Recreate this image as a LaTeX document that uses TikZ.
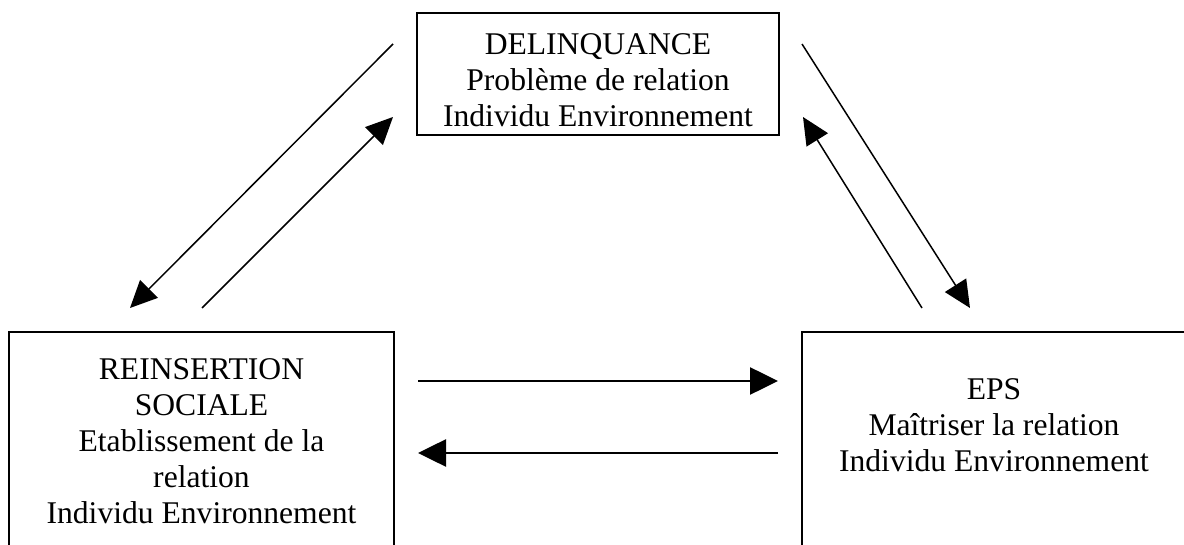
\documentclass[tikz,border=0pt]{standalone}
\usepackage{fontspec}
\setmainfont{Liberation Serif}
\usetikzlibrary{arrows.meta}
\begin{document}
\begin{tikzpicture}[x=1pt,y=-1pt,
  box/.style={draw=black, line width=1.8pt, rectangle, inner sep=0pt, outer sep=0pt},
  txt/.style={align=center, inner sep=0pt, anchor=north, font=\fontsize{31.6}{36}\selectfont},
  diag/.style={line width=1.5pt, -{Triangle[length=27pt,width=25pt]}},
  horiz/.style={line width=2.6pt, -{Triangle[length=28pt,width=27pt]}}]
\useasboundingbox (0,0) rectangle (1184,545);
% boxes
\node[box, minimum width=362pt, minimum height=122pt] (delbox) at (598,74) {};
\node[box, minimum width=385pt, minimum height=268pt] (reibox) at (201.5,466) {};
\node[box, minimum width=384pt, minimum height=268pt] (epsbox) at (994,466) {};
% texts
\node[txt] (deltext) at (598,33) {DELINQUANCE\\Problème de relation\\Individu Environnement};
\node[txt] (reitext) at (201.5,358) {REINSERTION\\SOCIALE\\Etablissement de la\\relation\\Individu Environnement};
\node[txt] (epstext) at (994,378) {EPS\\Maîtriser la relation\\Individu Environnement};
% arrow end points
\coordinate (a1s) at (393,44);  \coordinate (a1e) at (130,308);
\coordinate (a2s) at (202,308); \coordinate (a2e) at (393,117);
\coordinate (a3s) at (802,44);  \coordinate (a3e) at (970,308);
\coordinate (a4s) at (922,308); \coordinate (a4e) at (803,117);
\coordinate (a5s) at (418,381); \coordinate (a5e) at (778,381);
\coordinate (a6s) at (778,453); \coordinate (a6e) at (418,453);
% arrows
\draw[diag] (a1s) -- (a1e);
\draw[diag] (a2s) -- (a2e);
\draw[diag] (a3s) -- (a3e);
\draw[diag] (a4s) -- (a4e);
\draw[horiz] (a5s) -- (a5e);
\draw[horiz] (a6s) -- (a6e);
\end{tikzpicture}
\end{document}
